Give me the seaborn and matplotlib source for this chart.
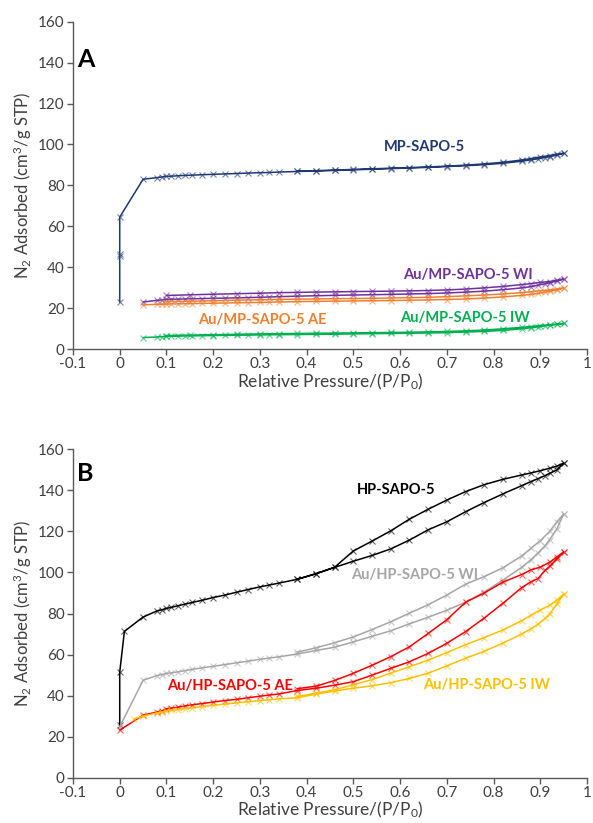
import numpy as np
import pandas as pd
import seaborn as sns
import matplotlib
matplotlib.use('Agg')
import matplotlib.pyplot as plt
from matplotlib.colors import to_rgba

# ---- panel A data (MP-SAPO-5 series) ----
xa_ads = [0.05, 0.08, 0.09, 0.1, 0.11, 0.125, 0.14, 0.155, 0.175, 0.2, 0.225, 0.25, 0.275, 0.3,
          0.32, 0.34, 0.38, 0.42, 0.46, 0.5, 0.54, 0.58, 0.62, 0.66, 0.7, 0.74, 0.78, 0.82, 0.86,
          0.88, 0.895, 0.91, 0.92, 0.935, 0.95]
xa_des = [0.95, 0.935, 0.92, 0.9, 0.88, 0.86, 0.82, 0.78, 0.74, 0.7, 0.66, 0.62, 0.58, 0.54, 0.5,
          0.46, 0.42, 0.38, 0.34, 0.3, 0.25, 0.2, 0.15, 0.1]

mp_x0 = [0, 0, 0, 0]
mp_y0 = [23.0, 45.5, 46.5, 64.5]
mp_ads = [83.0, 83.8, 84.1, 84.4, 84.5, 84.7, 84.9, 85.0, 85.2, 85.4, 85.6, 85.8, 86.0, 86.2,
          86.3, 86.5, 86.8, 87.0, 87.3, 87.6, 87.9, 88.2, 88.5, 88.8, 89.2, 89.6, 90.1, 90.8,
          91.8, 92.5, 93.0, 93.6, 94.0, 94.8, 95.7]
mp_des = [95.7, 95.2, 94.6, 93.9, 93.1, 92.4, 91.3, 90.5, 89.9, 89.4, 89.0, 88.7, 88.4, 88.1,
          87.8, 87.5, 87.2, 87.0, 86.7, 86.4, 86.1, 85.7, 85.3, 84.8]

wi_a_ads = [23.0, 23.8, 24.0, 24.3, 24.35, 24.4, 24.5, 24.55, 24.65, 24.8, 24.9, 25.0, 25.15,
            25.3, 25.45, 25.6, 25.85, 26.05, 26.25, 26.4, 26.55, 26.7, 26.9, 27.1, 27.4, 27.8,
            28.3, 29.0, 29.9, 30.5, 31.2, 31.9, 32.4, 33.2, 34.2]
wi_a_des = [34.2, 33.6, 33.0, 32.6, 32.0, 31.5, 30.6, 29.9, 29.3, 28.9, 28.6, 28.45, 28.3, 28.2,
            28.1, 27.95, 27.85, 27.7, 27.55, 27.3, 27.05, 26.8, 26.5, 26.2]

ae_a_ads = [21.6, 21.85, 21.9, 22.0, 22.05, 22.1, 22.15, 22.2, 22.3, 22.4, 22.5, 22.6, 22.7,
            22.8, 22.9, 23.0, 23.15, 23.3, 23.4, 23.5, 23.6, 23.7, 23.85, 24.0, 24.2, 24.5,
            24.9, 25.5, 26.2, 26.7, 27.2, 27.8, 28.2, 28.9, 29.8]
ae_a_des = [29.8, 29.3, 28.9, 28.5, 28.0, 27.6, 26.9, 26.4, 26.0, 25.6, 25.3, 25.1, 24.95, 24.8,
            24.7, 24.6, 24.5, 24.4, 24.25, 24.1, 23.9, 23.6, 23.4, 23.2]

iw_a_ads = [5.6, 5.9, 6.0, 6.2, 6.25, 6.3, 6.4, 6.45, 6.5, 6.6, 6.65, 6.75, 6.8, 6.9, 6.95, 7.0,
            7.1, 7.15, 7.25, 7.4, 7.5, 7.6, 7.7, 7.85, 8.0, 8.3, 8.6, 9.1, 9.9, 10.4, 10.8, 11.3,
            11.6, 12.0, 12.5]
iw_a_des = [12.5, 12.2, 11.9, 11.5, 11.0, 10.6, 9.9, 9.3, 8.9, 8.6, 8.4, 8.2, 8.1, 8.0, 7.9,
            7.8, 7.7, 7.6, 7.5, 7.4, 7.2, 7.0, 6.8, 6.6]

# ---- panel B data (HP-SAPO-5 series) ----
xb_ads = xa_ads
xb_des = [0.95, 0.935, 0.92, 0.9, 0.88, 0.86, 0.82, 0.78, 0.74, 0.7, 0.66, 0.62, 0.58, 0.54, 0.5,
          0.46, 0.42, 0.38]

hp_x0 = [0, 0, 0.01]
hp_y0 = [25.5, 51.5, 71.3]
hp_ads = [78.3, 81.3, 81.8, 82.5, 83.0, 83.8, 84.6, 85.4, 86.4, 87.8, 89.0, 90.4, 91.7, 93.0,
          93.9, 94.8, 96.7, 99.4, 102.5, 105.5, 108.3, 111.5, 115.8, 120.8, 124.7, 129.6, 134.1,
          138.3, 142.3, 144.3, 145.7, 147.2, 148.3, 149.9, 153.3]
hp_des = [153.3, 151.8, 150.8, 149.6, 148.5, 147.5, 145.4, 142.8, 139.4, 135.3, 130.8, 126.0,
          120.3, 115.3, 110.5, 102.6, 99.4, 96.7]

wi_b_x0 = [0]
wi_b_y0 = [24.8]
wi_b_ads = [47.5, 49.8, 50.3, 50.8, 51.1, 51.6, 52.2, 52.8, 53.5, 54.3, 55.1, 56.0, 56.8, 57.7,
            58.3, 58.9, 60.3, 62.0, 63.6, 66.2, 68.9, 71.6, 75.0, 78.2, 81.6, 85.5, 90.5, 96.3,
            102.5, 106.2, 109.5, 113.0, 116.0, 121.0, 128.5]
wi_b_des = [128.5, 124.5, 120.0, 115.5, 111.8, 108.0, 102.3, 98.0, 94.3, 89.0, 84.3, 80.2, 76.0,
            72.2, 68.6, 65.8, 63.3, 61.2]

ae_b_x0 = [0]
ae_b_y0 = [23.2]
ae_b_ads = [30.5, 32.0, 32.6, 33.5, 33.9, 34.4, 35.0, 35.5, 36.1, 36.9, 37.6, 38.2, 39.0, 39.7,
            40.3, 40.8, 42.5, 43.6, 45.1, 46.8, 50.0, 53.3, 56.5, 60.6, 65.5, 71.2, 77.8, 85.0,
            92.6, 95.5, 97.0, 101.0, 103.0, 106.5, 110.0]
ae_b_des = [110.0, 107.5, 105.0, 102.6, 101.3, 99.0, 95.3, 90.0, 85.5, 77.0, 70.3, 63.8, 59.0,
            54.8, 50.9, 47.4, 44.6, 43.4]

iw_b_x0 = [0.03]
iw_b_y0 = [28.5]
iw_b_ads = [30.0, 31.6, 32.0, 32.5, 32.8, 33.2, 33.7, 34.1, 34.6, 35.3, 35.9, 36.5, 37.0, 37.6,
            38.0, 38.4, 39.0, 40.7, 42.3, 43.6, 44.8, 46.3, 48.4, 50.9, 54.5, 58.2, 61.6, 65.6,
            70.0, 72.6, 74.8, 77.6, 79.8, 84.5, 89.5]
iw_b_des = [89.5, 86.5, 84.0, 81.7, 79.2, 76.5, 72.0, 68.3, 64.8, 61.0, 57.3, 54.1, 51.0, 47.8,
            45.3, 42.9, 41.2, 39.6]

x_ticks = [-0.1, 0, 0.1, 0.2, 0.3, 0.4, 0.5, 0.6, 0.7, 0.8, 0.9, 1]
x_labels = ['-0.1', '0', '0.1', '0.2', '0.3', '0.4', '0.5', '0.6', '0.7', '0.8', '0.9', '1']
y_ticks = [0, 20, 40, 60, 80, 100, 120, 140, 160]

sns.set_style('ticks')
plt.rcParams['font.family'] = ['Lato', 'DejaVu Sans']
plt.rcParams['mathtext.fontset'] = 'custom'
plt.rcParams['mathtext.rm'] = 'Lato'
plt.rcParams['mathtext.default'] = 'regular'

fig = plt.figure(figsize=(5.93, 8.23), dpi=100)
axA = fig.add_axes([0.1231, 0.5759, 0.8668, 0.3977])
axB = fig.add_axes([0.1231, 0.0550, 0.8668, 0.3990])

text_col = '#404040'
spine_col = '#595959'


def draw(ax, x, y, color):
    sns.lineplot(x=x, y=y, ax=ax, sort=False, estimator=None, color=color, lw=1.1,
                 marker='x', markersize=5, markeredgewidth=0.8,
                 markeredgecolor=to_rgba(color, 0.6))


series_a = [
    (mp_x0 + xa_ads + xa_des[:18], mp_y0 + mp_ads + mp_des[:18], '#1f3a73'),
    (xa_ads + xa_des, wi_a_ads + wi_a_des, '#7030a0'),
    (xa_ads + xa_des, ae_a_ads + ae_a_des, '#f08030'),
    (xa_ads + xa_des, iw_a_ads + iw_a_des, '#00b050'),
]
series_b = [
    (hp_x0 + xb_ads + xb_des, hp_y0 + hp_ads + hp_des, '#000000'),
    (wi_b_x0 + xb_ads + xb_des, wi_b_y0 + wi_b_ads + wi_b_des, '#a6a6a6'),
    (ae_b_x0 + xb_ads + xb_des, ae_b_y0 + ae_b_ads + ae_b_des, '#ff0000'),
    (iw_b_x0 + xb_ads + xb_des, iw_b_y0 + iw_b_ads + iw_b_des, '#ffc000'),
]

for ax, series in [(axA, series_a), (axB, series_b)]:
    for x, y, c in series:
        draw(ax, x, y, c)
    ax.set_xlim(-0.1, 1)
    ax.set_ylim(0, 160)
    ax.set_xticks(x_ticks)
    ax.set_xticklabels(x_labels)
    ax.set_yticks(y_ticks)
    ax.tick_params(axis='both', labelsize=11, colors=spine_col, labelcolor=text_col,
                   length=4, width=1, direction='out', pad=2)
    for s in ['top', 'right']:
        ax.spines[s].set_visible(False)
    for s in ['left', 'bottom']:
        ax.spines[s].set_color(spine_col)
        ax.spines[s].set_linewidth(1)
    ax.set_xlabel('Relative Pressure/(P/P$_0$)', fontsize=12.5, color=text_col, labelpad=0)
    ax.set_ylabel('N$_2$ Adsorbed (cm$^3$/g STP)', fontsize=12, color=text_col, labelpad=3)

lab = dict(fontsize=10.5, fontweight='bold', ha='center', va='center')
axA.text(0.653, 98.8, 'MP-SAPO-5', color='#1f3a73', **lab)
axA.text(0.745, 36.4, 'Au/MP-SAPO-5 WI', color='#7030a0', **lab)
axA.text(0.305, 14.3, 'Au/MP-SAPO-5 AE', color='#f08030', **lab)
axA.text(0.739, 15.1, 'Au/MP-SAPO-5 IW', color='#00b050', **lab)
axA.text(-0.092, 141.5, 'A', fontsize=18, fontweight='bold', ha='left', va='center', color='black')

axB.text(0.592, 140.2, 'HP-SAPO-5', color='#000000', **lab)
axB.text(0.63, 98.8, 'Au/HP-SAPO-5 WI', color='#a6a6a6', **lab)
axB.text(0.237, 44.7, 'Au/HP-SAPO-5 AE', color='#ff0000', **lab)
axB.text(0.785, 45.2, 'Au/HP-SAPO-5 IW', color='#ffc000', **lab)
axB.text(-0.092, 148.0, 'B', fontsize=18, fontweight='bold', ha='left', va='center', color='black')

fig.savefig('out.png', dpi=100)
